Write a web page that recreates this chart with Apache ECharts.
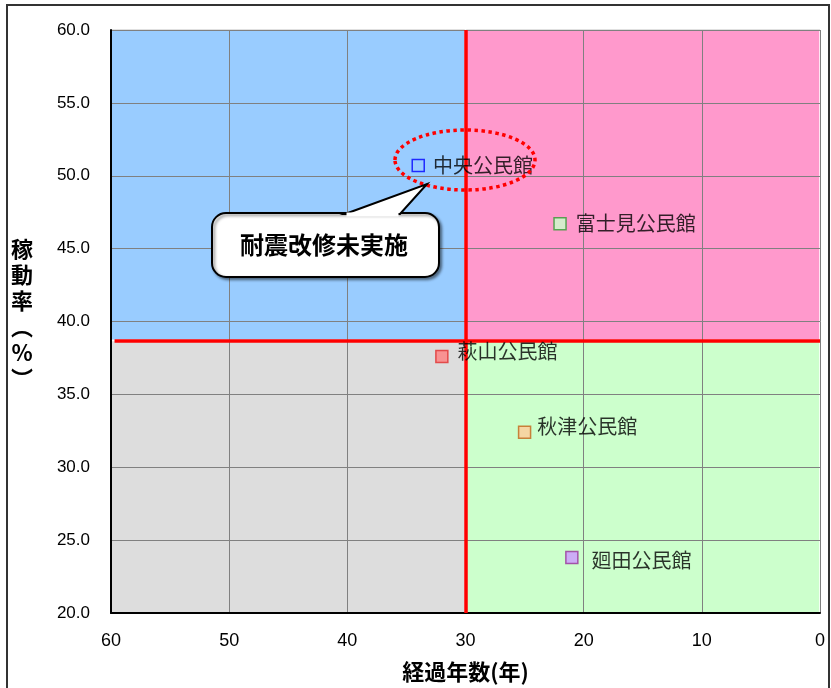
<!DOCTYPE html>
<html>
<head>
<meta charset="utf-8">
<script src="https://cdn.jsdelivr.net/npm/echarts@6/dist/echarts.min.js"></script>
<style>
html,body{margin:0;padding:0;background:#fff;}
#chart{width:831px;height:688px;}
</style>
</head>
<body>
<div id="chart"></div>
<script>
// ---- data ----
const names = ['中央公民館', '富士見公民館', '萩山公民館', '秋津公民館', '廻田公民館'];
const years = [34.0, 22.0, 32.0, 25.0, 21.0];   // 経過年数
const rates = [50.7, 46.7, 37.6, 32.4, 23.8];   // 稼動率
const xThreshold = 30;
const yThreshold = 38.7;
const xTicks = [0, 10, 20, 30, 40, 50, 60];
const yTicks = [20, 25, 30, 35, 40, 45, 50, 55, 60];
const xAxisTitle = '経過年数(年)';
const yAxisTitle = '稼\n動\n率\n︵\n%\n︶';
const calloutText = '耐震改修未実施';

// ---- styles ----
const markerFill = ['rgba(0,0,0,0)', '#CCFFCC', '#FF8080', '#FFCC99', '#CC99FF'];
const markerBorder = ['#0000FF', '#339933', '#E03030', '#C0661A', '#993399'];
const labelDist = [8, 9, 9, 6, 13];
const labelOffset = [[0, 0], [0, 0], [0, -5], [0, -6], [0, 3]];

const jpFont = '"Noto Sans CJK JP", sans-serif';
const chart = echarts.init(document.getElementById('chart'), null, {renderer: 'canvas'});

const points = names.map((n, i) => ({
  name: n,
  value: [years[i], rates[i]],
  itemStyle: {color: markerFill[i], borderColor: markerBorder[i], borderWidth: 1.5},
  label: {distance: labelDist[i], offset: labelOffset[i]}
}));

const xMin = Math.min(...xTicks), xMax = Math.max(...xTicks);
const yMin = Math.min(...yTicks), yMax = Math.max(...yTicks);

const quad = (c, x1, y1, x2, y2) => [
  {xAxis: x1, yAxis: y1, itemStyle: {color: c, borderColor: '#fff', borderWidth: 1.5}},
  {xAxis: x2, yAxis: y2}
];

chart.setOption({
  animation: false,
  backgroundColor: '#fff',
  grid: {left: 111, right: 11, top: 30, bottom: 75, outerBoundsMode: 'none', containLabel: false,
    show: true, borderColor: '#000', borderWidth: 1, backgroundColor: '#fff'},
  xAxis: {
    type: 'value', inverse: true, min: xMin, max: xMax, interval: 10, z: 3,
    axisLine: {show: true, onZero: false, lineStyle: {color: '#000', width: 2}},
    axisTick: {show: false},
    splitLine: {show: true, lineStyle: {color: '#808080', width: 1}},
    axisLabel: {color: '#000', fontSize: 18, margin: 19, fontFamily: '"Liberation Sans", Arial, sans-serif'},
    name: xAxisTitle, nameLocation: 'middle', nameGap: 48,
    nameTextStyle: {color: '#000', fontSize: 22, fontWeight: 'bold', fontFamily: jpFont}
  },
  yAxis: {
    type: 'value', min: yMin, max: yMax, interval: 5, z: 3,
    axisLine: {show: true, onZero: false, lineStyle: {color: '#000', width: 2}},
    axisTick: {show: false},
    splitLine: {show: true, lineStyle: {color: '#808080', width: 1}},
    axisLabel: {color: '#000', fontSize: 17, margin: 21, fontFamily: '"Liberation Sans", Arial, sans-serif',
      formatter: v => v.toFixed(1)}
  },
  series: [
    {
      type: 'scatter', data: [], z: 1, silent: true,
      markArea: {
        silent: true,
        data: [
          quad('#99CCFF', xThreshold, yThreshold, xMax, yMax),
          quad('#FF99CC', xMin, yThreshold, xThreshold, yMax),
          quad('#DDDDDD', xThreshold, yMin, xMax, yThreshold),
          quad('#CCFFCC', xMin, yMin, xThreshold, yThreshold)
        ]
      }
    },
    {
      type: 'scatter', data: [], z: 4, silent: true,
      markLine: {
        silent: true, symbol: ['none', 'none'], label: {show: false},
        lineStyle: {color: '#FF0000', width: 3.5, type: 'solid'},
        data: [
          [{coord: [xThreshold, yMin]}, {coord: [xThreshold, yMax]}],
          [{coord: [xMax - 0.3, yThreshold]}, {coord: [xMin, yThreshold]}]
        ]
      }
    },
    {
      type: 'scatter', z: 6, symbol: 'rect', symbolSize: 12,
      data: points,
      label: {show: true, position: 'right', formatter: '{b}', color: '#000', fontSize: 20, fontFamily: jpFont}
    }
  ],
  graphic: [
    {type: 'rect', z: 100, silent: true, shape: {x: 7, y: 5, width: 822, height: 700},
      style: {fill: 'none', stroke: '#333', lineWidth: 2}},
    {type: 'text', z: 100, x: 22, y: 314,
      style: {text: yAxisTitle, fill: '#000', font: 'bold 22px "Noto Sans CJK JP", sans-serif',
        lineHeight: 26, align: 'center', verticalAlign: 'middle'}},
    {type: 'ellipse', z: 100, shape: {cx: 465, cy: 160, rx: 70, ry: 30},
      style: {fill: 'none', stroke: '#FF0000', lineWidth: 3.5, lineDash: [3.5, 3.5]}},
    {type: 'rect', z: 101, shape: {x: 212, y: 213, width: 227, height: 64, r: 14},
      style: {fill: '#fff', stroke: '#000', lineWidth: 2, shadowBlur: 3, shadowOffsetX: 2, shadowOffsetY: 2, shadowColor: 'rgba(0,0,0,0.45)'}},
    {type: 'polygon', z: 102, shape: {points: [[345, 214], [427, 184], [400, 214]]},
      style: {fill: '#fff', stroke: '#000', lineWidth: 2}},
    {type: 'rect', z: 103, shape: {x: 346.5, y: 212.5, width: 52, height: 4},
      style: {fill: '#fff'}},
    {type: 'text', z: 104, x: 324, y: 245,
      style: {text: calloutText, fill: '#000', font: 'bold 24px "Noto Sans CJK JP", sans-serif',
        align: 'center', verticalAlign: 'middle'}}
  ]
});
</script>
</body>
</html>
